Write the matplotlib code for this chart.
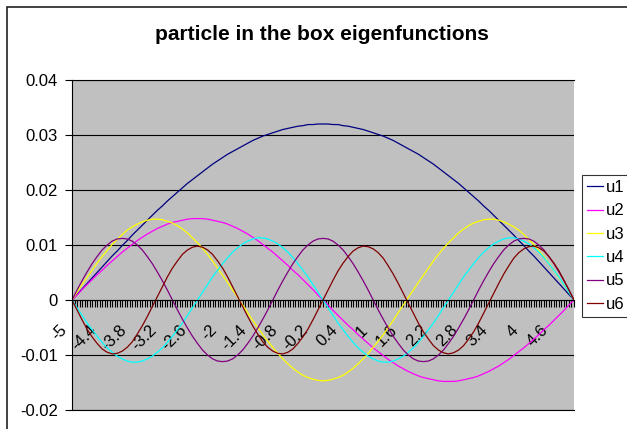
import matplotlib
matplotlib.use('Agg')
import matplotlib.pyplot as plt
from matplotlib.patches import Rectangle
from matplotlib.ticker import FuncFormatter, MultipleLocator
from matplotlib.transforms import ScaledTranslation

plt.rcParams['font.family'] = ['Liberation Sans', 'DejaVu Sans']

# categories: x from -5 to 5 in steps of 0.1
x = [round(-5 + 0.1 * i, 1) for i in range(101)]

u1 = [0, 0.0010, 0.0020, 0.0030, 0.0040, 0.0050, 0.0060, 0.0070, 0.0080, 0.0089, 0.0099,
      0.0108, 0.0118, 0.0127, 0.0136, 0.0145, 0.0154, 0.0163, 0.0171, 0.0180, 0.0188,
      0.0196, 0.0204, 0.0212, 0.0219, 0.0226, 0.0233, 0.0240, 0.0247, 0.0253, 0.0259,
      0.0265, 0.0270, 0.0275, 0.0280, 0.0285, 0.0290, 0.0294, 0.0298, 0.0301, 0.0304,
      0.0307, 0.0310, 0.0312, 0.0314, 0.0316, 0.0317, 0.0319, 0.0319, 0.0320, 0.0320,
      0.0320, 0.0319, 0.0319, 0.0317, 0.0316, 0.0314, 0.0312, 0.0310, 0.0307, 0.0304,
      0.0301, 0.0298, 0.0294, 0.0290, 0.0285, 0.0280, 0.0275, 0.0270, 0.0265, 0.0259,
      0.0253, 0.0247, 0.0240, 0.0233, 0.0226, 0.0219, 0.0212, 0.0204, 0.0196, 0.0188,
      0.0180, 0.0171, 0.0163, 0.0154, 0.0145, 0.0136, 0.0127, 0.0118, 0.0108, 0.0099,
      0.0089, 0.0080, 0.0070, 0.0060, 0.0050, 0.0040, 0.0030, 0.0020, 0.0010, 0]
u2 = [0, 0.0009, 0.0019, 0.0028, 0.0037, 0.0046, 0.0054, 0.0063, 0.0071, 0.0079, 0.0087,
      0.0094, 0.0101, 0.0108, 0.0114, 0.0120, 0.0125, 0.0130, 0.0134, 0.0138, 0.0141,
      0.0143, 0.0145, 0.0147, 0.0148, 0.0148, 0.0148, 0.0147, 0.0145, 0.0143, 0.0141,
      0.0138, 0.0134, 0.0130, 0.0125, 0.0120, 0.0114, 0.0108, 0.0101, 0.0094, 0.0087,
      0.0079, 0.0071, 0.0063, 0.0054, 0.0046, 0.0037, 0.0028, 0.0019, 0.0009, 0,
      -0.0009, -0.0019, -0.0028, -0.0037, -0.0046, -0.0054, -0.0063, -0.0071, -0.0079,
      -0.0087, -0.0094, -0.0101, -0.0108, -0.0114, -0.0120, -0.0125, -0.0130, -0.0134,
      -0.0138, -0.0141, -0.0143, -0.0145, -0.0147, -0.0148, -0.0148, -0.0148, -0.0147,
      -0.0145, -0.0143, -0.0141, -0.0138, -0.0134, -0.0130, -0.0125, -0.0120, -0.0114,
      -0.0108, -0.0101, -0.0094, -0.0087, -0.0079, -0.0071, -0.0063, -0.0054, -0.0046,
      -0.0037, -0.0028, -0.0019, -0.0009, 0]
u3 = [0, 0.0014, 0.0028, 0.0041, 0.0054, 0.0067, 0.0079, 0.0090, 0.0101, 0.0110, 0.0119,
      0.0127, 0.0133, 0.0138, 0.0142, 0.0145, 0.0147, 0.0147, 0.0146, 0.0143, 0.0140,
      0.0135, 0.0129, 0.0122, 0.0113, 0.0104, 0.0094, 0.0083, 0.0071, 0.0058, 0.0045,
      0.0032, 0.0018, 0.0005, -0.0009, -0.0023, -0.0037, -0.0050, -0.0063, -0.0075,
      -0.0086, -0.0097, -0.0107, -0.0116, -0.0124, -0.0131, -0.0137, -0.0141, -0.0144,
      -0.0146, -0.0147, -0.0146, -0.0144, -0.0141, -0.0137, -0.0131, -0.0124, -0.0116,
      -0.0107, -0.0097, -0.0086, -0.0075, -0.0063, -0.0050, -0.0037, -0.0023, -0.0009,
      0.0005, 0.0018, 0.0032, 0.0045, 0.0058, 0.0071, 0.0083, 0.0094, 0.0104, 0.0113,
      0.0122, 0.0129, 0.0135, 0.0140, 0.0143, 0.0146, 0.0147, 0.0147, 0.0145, 0.0142,
      0.0138, 0.0133, 0.0127, 0.0119, 0.0110, 0.0101, 0.0090, 0.0079, 0.0067, 0.0054,
      0.0041, 0.0028, 0.0014, 0]
u4 = [0, -0.0014, -0.0028, -0.0042, -0.0054, -0.0066, -0.0077, -0.0087, -0.0095, -0.0102,
      -0.0107, -0.0111, -0.0113, -0.0113, -0.0111, -0.0107, -0.0102, -0.0095, -0.0087,
      -0.0077, -0.0066, -0.0054, -0.0042, -0.0028, -0.0014, 0, 0.0014, 0.0028, 0.0042,
      0.0054, 0.0066, 0.0077, 0.0087, 0.0095, 0.0102, 0.0107, 0.0111, 0.0113, 0.0113,
      0.0111, 0.0107, 0.0102, 0.0095, 0.0087, 0.0077, 0.0066, 0.0054, 0.0042, 0.0028,
      0.0014, 0, -0.0014, -0.0028, -0.0042, -0.0054, -0.0066, -0.0077, -0.0087, -0.0095,
      -0.0102, -0.0107, -0.0111, -0.0113, -0.0113, -0.0111, -0.0107, -0.0102, -0.0095,
      -0.0087, -0.0077, -0.0066, -0.0054, -0.0042, -0.0028, -0.0014, 0, 0.0014, 0.0028,
      0.0042, 0.0054, 0.0066, 0.0077, 0.0087, 0.0095, 0.0102, 0.0107, 0.0111, 0.0113,
      0.0113, 0.0111, 0.0107, 0.0102, 0.0095, 0.0087, 0.0077, 0.0066, 0.0054, 0.0042,
      0.0028, 0.0014, 0]
u5 = [0, 0.0018, 0.0035, 0.0051, 0.0066, 0.0079, 0.0091, 0.0100, 0.0107, 0.0111, 0.0112,
      0.0111, 0.0107, 0.0100, 0.0091, 0.0079, 0.0066, 0.0051, 0.0035, 0.0018, 0,
      -0.0018, -0.0035, -0.0051, -0.0066, -0.0079, -0.0091, -0.0100, -0.0107, -0.0111,
      -0.0112, -0.0111, -0.0107, -0.0100, -0.0091, -0.0079, -0.0066, -0.0051, -0.0035,
      -0.0018, 0, 0.0018, 0.0035, 0.0051, 0.0066, 0.0079, 0.0091, 0.0100, 0.0107, 0.0111,
      0.0112, 0.0111, 0.0107, 0.0100, 0.0091, 0.0079, 0.0066, 0.0051, 0.0035, 0.0018, 0,
      -0.0018, -0.0035, -0.0051, -0.0066, -0.0079, -0.0091, -0.0100, -0.0107, -0.0111,
      -0.0112, -0.0111, -0.0107, -0.0100, -0.0091, -0.0079, -0.0066, -0.0051, -0.0035,
      -0.0018, 0, 0.0018, 0.0035, 0.0051, 0.0066, 0.0079, 0.0091, 0.0100, 0.0107, 0.0111,
      0.0112, 0.0111, 0.0107, 0.0100, 0.0091, 0.0079, 0.0066, 0.0051, 0.0035, 0.0018, 0]
u6 = [0, -0.0018, -0.0036, -0.0053, -0.0067, -0.0079, -0.0089, -0.0095, -0.0098, -0.0097,
      -0.0093, -0.0086, -0.0076, -0.0062, -0.0047, -0.0030, -0.0012, 0.0006, 0.0024,
      0.0042, 0.0058, 0.0071, 0.0083, 0.0091, 0.0096, 0.0098, 0.0096, 0.0091, 0.0083,
      0.0071, 0.0058, 0.0042, 0.0024, 0.0006, -0.0012, -0.0030, -0.0047, -0.0062, -0.0076,
      -0.0086, -0.0093, -0.0097, -0.0098, -0.0095, -0.0089, -0.0079, -0.0067, -0.0053,
      -0.0036, -0.0018, 0, 0.0018, 0.0036, 0.0053, 0.0067, 0.0079, 0.0089, 0.0095, 0.0098,
      0.0097, 0.0093, 0.0086, 0.0076, 0.0062, 0.0047, 0.0030, 0.0012, -0.0006, -0.0024,
      -0.0042, -0.0058, -0.0071, -0.0083, -0.0091, -0.0096, -0.0098, -0.0096, -0.0091,
      -0.0083, -0.0071, -0.0058, -0.0042, -0.0024, -0.0006, 0.0012, 0.0030, 0.0047, 0.0062,
      0.0076, 0.0086, 0.0093, 0.0097, 0.0098, 0.0095, 0.0089, 0.0079, 0.0067, 0.0053,
      0.0036, 0.0018, 0]

series = {'u1': u1, 'u2': u2, 'u3': u3, 'u4': u4, 'u5': u5, 'u6': u6}
colors = ['#000080', '#FF00FF', '#FFFF00', '#00FFFF', '#800080', '#800000']

xtick_pos = [-5, -4.4, -3.8, -3.2, -2.6, -2, -1.4, -0.8, -0.2, 0.4, 1, 1.6, 2.2, 2.8, 3.4, 4, 4.6]
xtick_labels = ['-5', '-4.4', '-3.8', '-3.2', '-2.6', '-2', '-1.4', '-0.8', '-0.2',
                '0.4', '1', '1.6', '2.2', '2.8', '3.4', '4', '4.6']

W, H = 627, 429
fig = plt.figure(figsize=(W / 100, H / 100), dpi=100)
ax = fig.add_axes([72 / W, 1 - 410 / H, 502 / W, 330 / H])
ax.set_facecolor('#C0C0C0')

for (name, vals), c in zip(series.items(), colors):
    assert len(vals) == len(x), name
    ax.plot(x, vals, color=c, lw=0.9, label=name)

ax.set_xlim(-5, 5)
ax.set_ylim(-0.02, 0.04)
ax.yaxis.set_major_locator(MultipleLocator(0.01))
ax.yaxis.set_major_formatter(FuncFormatter(lambda v, p: f'{round(v, 3):g}'))
ax.grid(True, axis='y', color='black', lw=0.8)
ax.set_axisbelow(True)
ax.axhline(-0.02, color='black', lw=0.8, clip_on=False)

ax.spines['right'].set_visible(False)
ax.spines['top'].set_color('black')
ax.spines['bottom'].set_position(('data', 0))
ax.spines['left'].set_color('black')

ax.set_xticks(xtick_pos)
ax.set_xticklabels(xtick_labels, rotation=45, ha='right', va='center', rotation_mode='anchor')
ax.xaxis.set_minor_locator(MultipleLocator(0.05))
ax.tick_params(axis='x', which='both', direction='out', length=5, width=0.8, labelsize=12, pad=15)
ax.tick_params(axis='y', direction='out', length=5, width=0.8, labelsize=12, pad=5)
shift = ScaledTranslation(-8 / 100, 0, fig.dpi_scale_trans)
for lab in ax.get_xticklabels():
    lab.set_transform(lab.get_transform() + shift)

fig.text(322 / W, 1 - 34 / H, 'particle in the box eigenfunctions',
         ha='center', va='center', fontsize=15, fontweight='bold')

leg = fig.legend(loc='upper left', bbox_to_anchor=(582 / W, 1 - 175 / H), borderaxespad=0,
                 fontsize=12, frameon=True, fancybox=False, edgecolor='black',
                 handlelength=0.96, handletextpad=0.2, labelspacing=0.5, borderpad=0.3)
leg.get_frame().set_linewidth(0.8)

fig.add_artist(Rectangle((7 / W, -0.2), 1.5, 1.2 - 7 / H, transform=fig.transFigure,
                         fill=False, ec='#222222', lw=1.2))

fig.savefig('out.png', dpi=100)
